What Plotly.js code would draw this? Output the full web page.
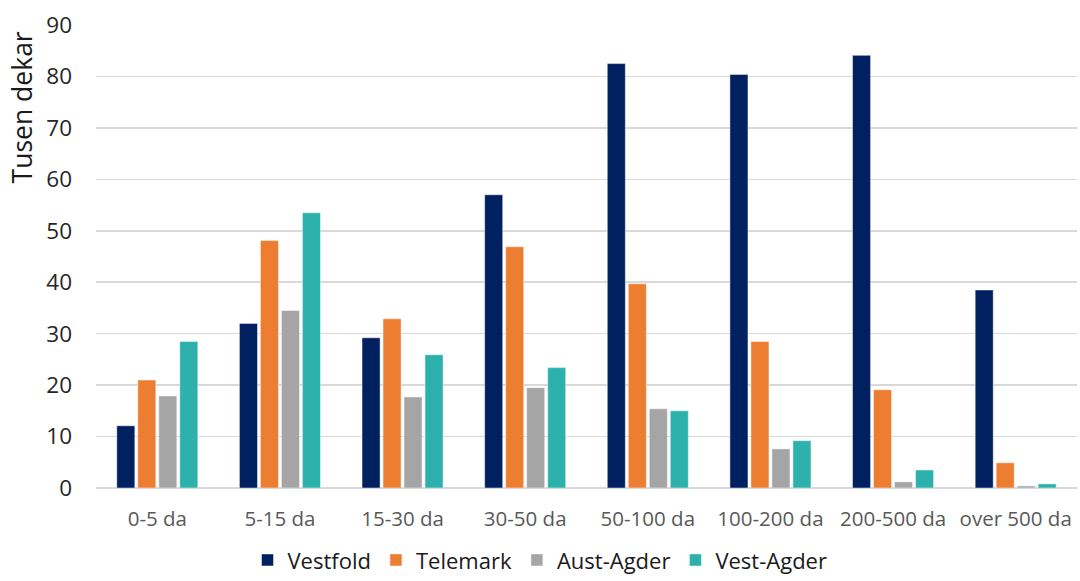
<!DOCTYPE html>
<html>
<head>
<meta charset="utf-8">
<script src="https://cdn.plot.ly/plotly-3.0.1.min.js"></script>
<style>
  html, body { margin: 0; padding: 0; background: #ffffff; }
  #chart { width: 1080px; height: 581px; }
</style>
</head>
<body>
<div id="chart"></div>
<script>
// Areal fordelt etter størrelse på jordbruksbedriften, tusen dekar
const categories = ['0-5 da', '5-15 da', '15-30 da', '30-50 da', '50-100 da', '100-200 da', '200-500 da', 'over 500 da'];
const vestfold  = [12.1, 32.0, 29.2, 57.0, 82.5, 80.4, 84.1, 38.5];
const telemark  = [21.0, 48.1, 32.9, 46.9, 39.7, 28.5, 19.1, 4.9];
const austAgder = [17.9, 34.5, 17.7, 19.5, 15.4, 7.6, 1.2, 0.4];
const vestAgder = [28.5, 53.5, 25.9, 23.4, 15.0, 9.2, 3.5, 0.8];
const seriesNames = ['Vestfold', 'Telemark', 'Aust-Agder', 'Vest-Agder'];
const seriesColors = ['#002060', '#ED7D31', '#A5A5A5', '#2CB1AD'];
const yTicks = [0, 10, 20, 30, 40, 50, 60, 70, 80, 90];

const fontFamily = '"Open Sans", "Noto Sans", sans-serif';
const values = [vestfold, telemark, austAgder, vestAgder];

const traces = values.map((v, i) => ({
  type: 'bar',
  name: seriesNames[i],
  x: categories,
  y: v,
  marker: { color: seriesColors[i], line: { color: 'rgba(255,255,255,0.6)', width: 0.8 } },
  hoverinfo: 'x+y+name'
}));

const layout = {
  width: 1080,
  height: 581,
  margin: { l: 96, r: 3, t: 25, b: 93 },
  paper_bgcolor: '#ffffff',
  plot_bgcolor: '#ffffff',
  barmode: 'group',
  bargap: 0.315,
  bargroupgap: 0.14,
  font: { family: fontFamily, color: '#262626' },
  xaxis: {
    type: 'category',
    showgrid: false,
    showline: false,
    zeroline: false,
    ticks: '',
    ticklabelstandoff: 16,
    tickfont: { family: fontFamily, size: 20.5, color: '#595959' }
  },
  yaxis: {
    range: [0, 90],
    tickvals: yTicks,
    ticktext: yTicks.map(String),
    showgrid: true,
    gridcolor: '#D9D9D9',
    gridwidth: 1.5,
    zeroline: true,
    zerolinecolor: '#D9D9D9',
    zerolinewidth: 1.5,
    showline: false,
    ticks: '',
    ticklabelstandoff: 23,
    tickfont: { family: fontFamily, size: 22.5, color: '#262626' }
  },
  showlegend: true,
  legend: {
    orientation: 'h',
    xref: 'container',
    yref: 'container',
    x: 0.5,
    xanchor: 'center',
    y: 0.072,
    yanchor: 'top',
    font: { family: fontFamily, size: 22, color: '#1a1a1a' },
    itemwidth: 30,
    traceorder: 'normal'
  },
  annotations: [{
    text: 'Tusen dekar',
    textangle: -90,
    xref: 'paper',
    yref: 'paper',
    x: -0.075,
    xanchor: 'center',
    y: 0.823,
    yanchor: 'middle',
    showarrow: false,
    font: { family: fontFamily, size: 26.5, color: '#1a1a1a' }
  }]
};

Plotly.newPlot('chart', traces, layout, { displayModeBar: false, staticPlot: true });
</script>
</body>
</html>
